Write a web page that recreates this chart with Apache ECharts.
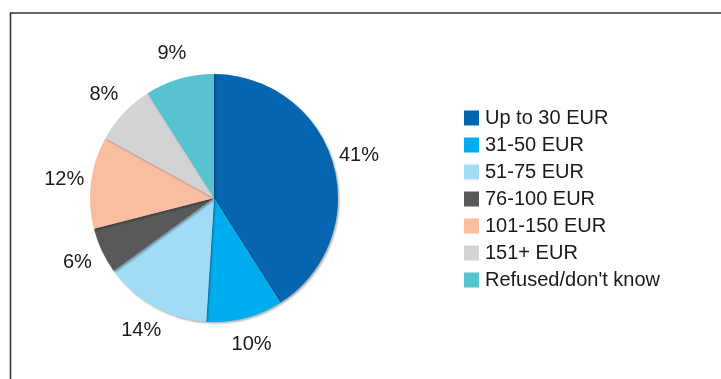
<!DOCTYPE html>
<html>
<head>
<meta charset="utf-8">
<script src="https://cdn.jsdelivr.net/npm/echarts@6/dist/echarts.min.js"></script>
<style>
  html, body { margin: 0; padding: 0; background: #ffffff; }
  #chart { width: 721px; height: 379px; }
</style>
</head>
<body>
<div id="chart"></div>
<script>
// Spending bands and their shares (%)
const categories = ['Up to 30 EUR', '31-50 EUR', '51-75 EUR', '76-100 EUR', '101-150 EUR', '151+ EUR', "Refused/don't know"];
const shares = [41, 10, 14, 6, 12, 8, 9];
const colors = ['#0565B0', '#00AEEF', '#A1DCF7', '#58595B', '#F9BDA0', '#D1D3D4', '#56C3CE'];

const pieData = categories.map((name, i) => ({ name: name, value: shares[i] }));

const chart = echarts.init(document.getElementById('chart'), null, { renderer: 'canvas' });

chart.setOption({
  animation: false,
  color: colors,
  textStyle: { fontFamily: 'Liberation Sans, Arial, sans-serif' },
  graphic: [{
    type: 'rect',
    shape: { x: 10.5, y: 13, width: 730, height: 400 },
    style: { fill: 'none', stroke: '#333333', lineWidth: 1.6 },
    silent: true,
    z: 0
  }],
  legend: {
    orient: 'vertical',
    left: 464,
    top: 108,
    padding: 0,
    itemWidth: 15,
    itemHeight: 15,
    itemGap: 7,
    icon: 'rect',
    data: categories,
    textStyle: { fontSize: 20, color: '#1a1a1a', padding: [0, 0, 0, 1], lineHeight: 20, fontFamily: 'Liberation Sans, Arial, sans-serif' }
  },
  series: [
    {
      // the pie itself
      type: 'pie',
      center: [214, 198],
      radius: [0, 124],
      startAngle: 90,
      clockwise: true,
      data: pieData,
      label: { show: false },
      labelLine: { show: false },
      itemStyle: {
        borderWidth: 0,
        shadowColor: 'rgba(0,0,0,0.3)',
        shadowBlur: 2,
        shadowOffsetX: 1.5,
        shadowOffsetY: 1.5
      },
      emphasis: { disabled: true },
      z: 2
    },
    {
      // transparent outer ring that carries the percentage labels
      type: 'pie',
      center: [214, 198],
      radius: [124, 172],
      startAngle: 90,
      clockwise: true,
      silent: true,
      data: pieData,
      itemStyle: { color: 'rgba(0,0,0,0)' },
      label: {
        show: true,
        position: 'inside',
        formatter: '{c}%',
        fontSize: 20,
        color: '#1a1a1a',
        fontFamily: 'Liberation Sans, Arial, sans-serif'
      },
      labelLine: { show: false },
      emphasis: { disabled: true },
      z: 3
    }
  ]
});
</script>
</body>
</html>
